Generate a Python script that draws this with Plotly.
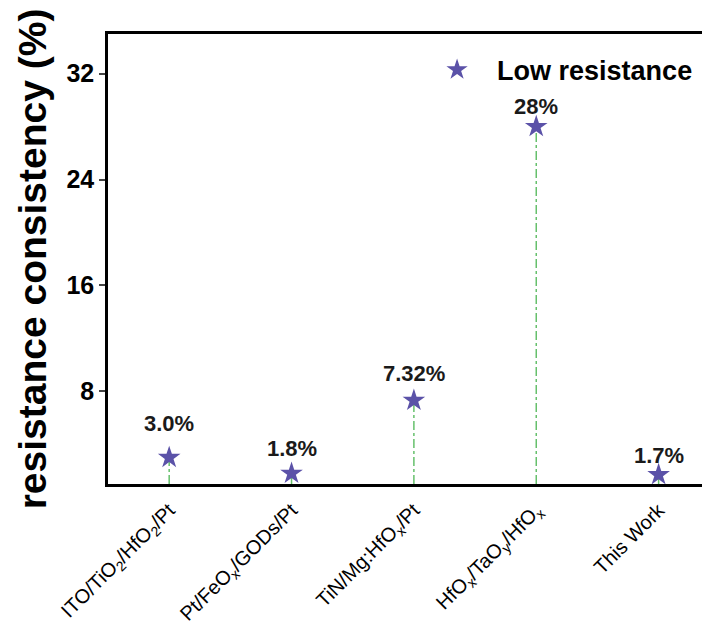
import plotly.graph_objects as go

categories = ["ITO/TiO<sub>2</sub>/HfO<sub>2</sub>/Pt", "Pt/FeO<sub>x</sub>/GODs/Pt",
              "TiN/Mg:HfO<sub>x</sub>/Pt", "HfO<sub>x</sub>/TaO<sub>y</sub>/HfO<sub>x</sub>", "This Work"]
values = [3.0, 1.8, 7.32, 28, 1.7]
labels = ["3.0%", "1.8%", "7.32%", "28%", "1.7%"]
yticks = [8, 16, 24, 32]

y0, y1 = 1.0, 35.0
idx = list(range(len(categories)))

FONT = "Liberation Sans, Arial, sans-serif"
STAR = "#5b52a8"
GREEN = "#66c06c"

fig = go.Figure()

# drop lines
lx, ly = [], []
for i, v in zip(idx, values):
    lx += [i, i, None]
    ly += [y0, v, None]
fig.add_trace(go.Scatter(x=lx, y=ly, mode="lines", showlegend=False,
                         line=dict(color=GREEN, width=1.5, dash="dashdot"),
                         hoverinfo="skip"))

fig.add_trace(go.Scatter(x=idx, y=values, mode="markers", name="<b>Low resistance</b>",
                         marker=dict(symbol="star", size=17, color=STAR,
                                     line=dict(width=0))))

shifts = [34, 25, 27, 20, 19]
for i, v, t, s in zip(idx, values, labels, shifts):
    fig.add_annotation(x=i, y=v, text=f"<b>{t}</b>", showarrow=False, yshift=s,
                       font=dict(family=FONT, size=22, color="#1a1a1a"))

fig.update_layout(
    width=702, height=634,
    margin=dict(l=100, r=0, t=26, b=158, autoexpand=False),
    plot_bgcolor="white", paper_bgcolor="white",
    font=dict(family=FONT, color="black"),
    legend=dict(x=0.5134, y=0.974, xanchor="left", yanchor="top",
                bgcolor="rgba(0,0,0,0)", itemwidth=70,
                font=dict(family=FONT, size=27, color="black")),
    showlegend=True,
)
fig.update_xaxes(
    tickmode="array", tickvals=idx,
    ticktext=categories,
    tickangle=-45, range=[-0.5, 4.42], automargin=False,
    showline=True, linecolor="black", linewidth=2.5, mirror=True,
    showgrid=False, zeroline=False, ticks="", ticklabelstandoff=4,
    tickfont=dict(family=FONT, size=20, color="black"),
)
fig.update_yaxes(
    range=[y0, y1], tickvals=yticks, ticktext=[f"<b>{t}</b>" for t in yticks],
    showline=True, linecolor="black", linewidth=2.5, automargin=False,
    showgrid=False, zeroline=False, ticks="outside", ticklen=6, tickwidth=2,
    tickfont=dict(family=FONT, size=25, color="black"),
    title=dict(text="<b>resistance consistency (%)</b>", standoff=8,
               font=dict(family=FONT, size=39, color="black")),
)

fig.write_html("out.html")
